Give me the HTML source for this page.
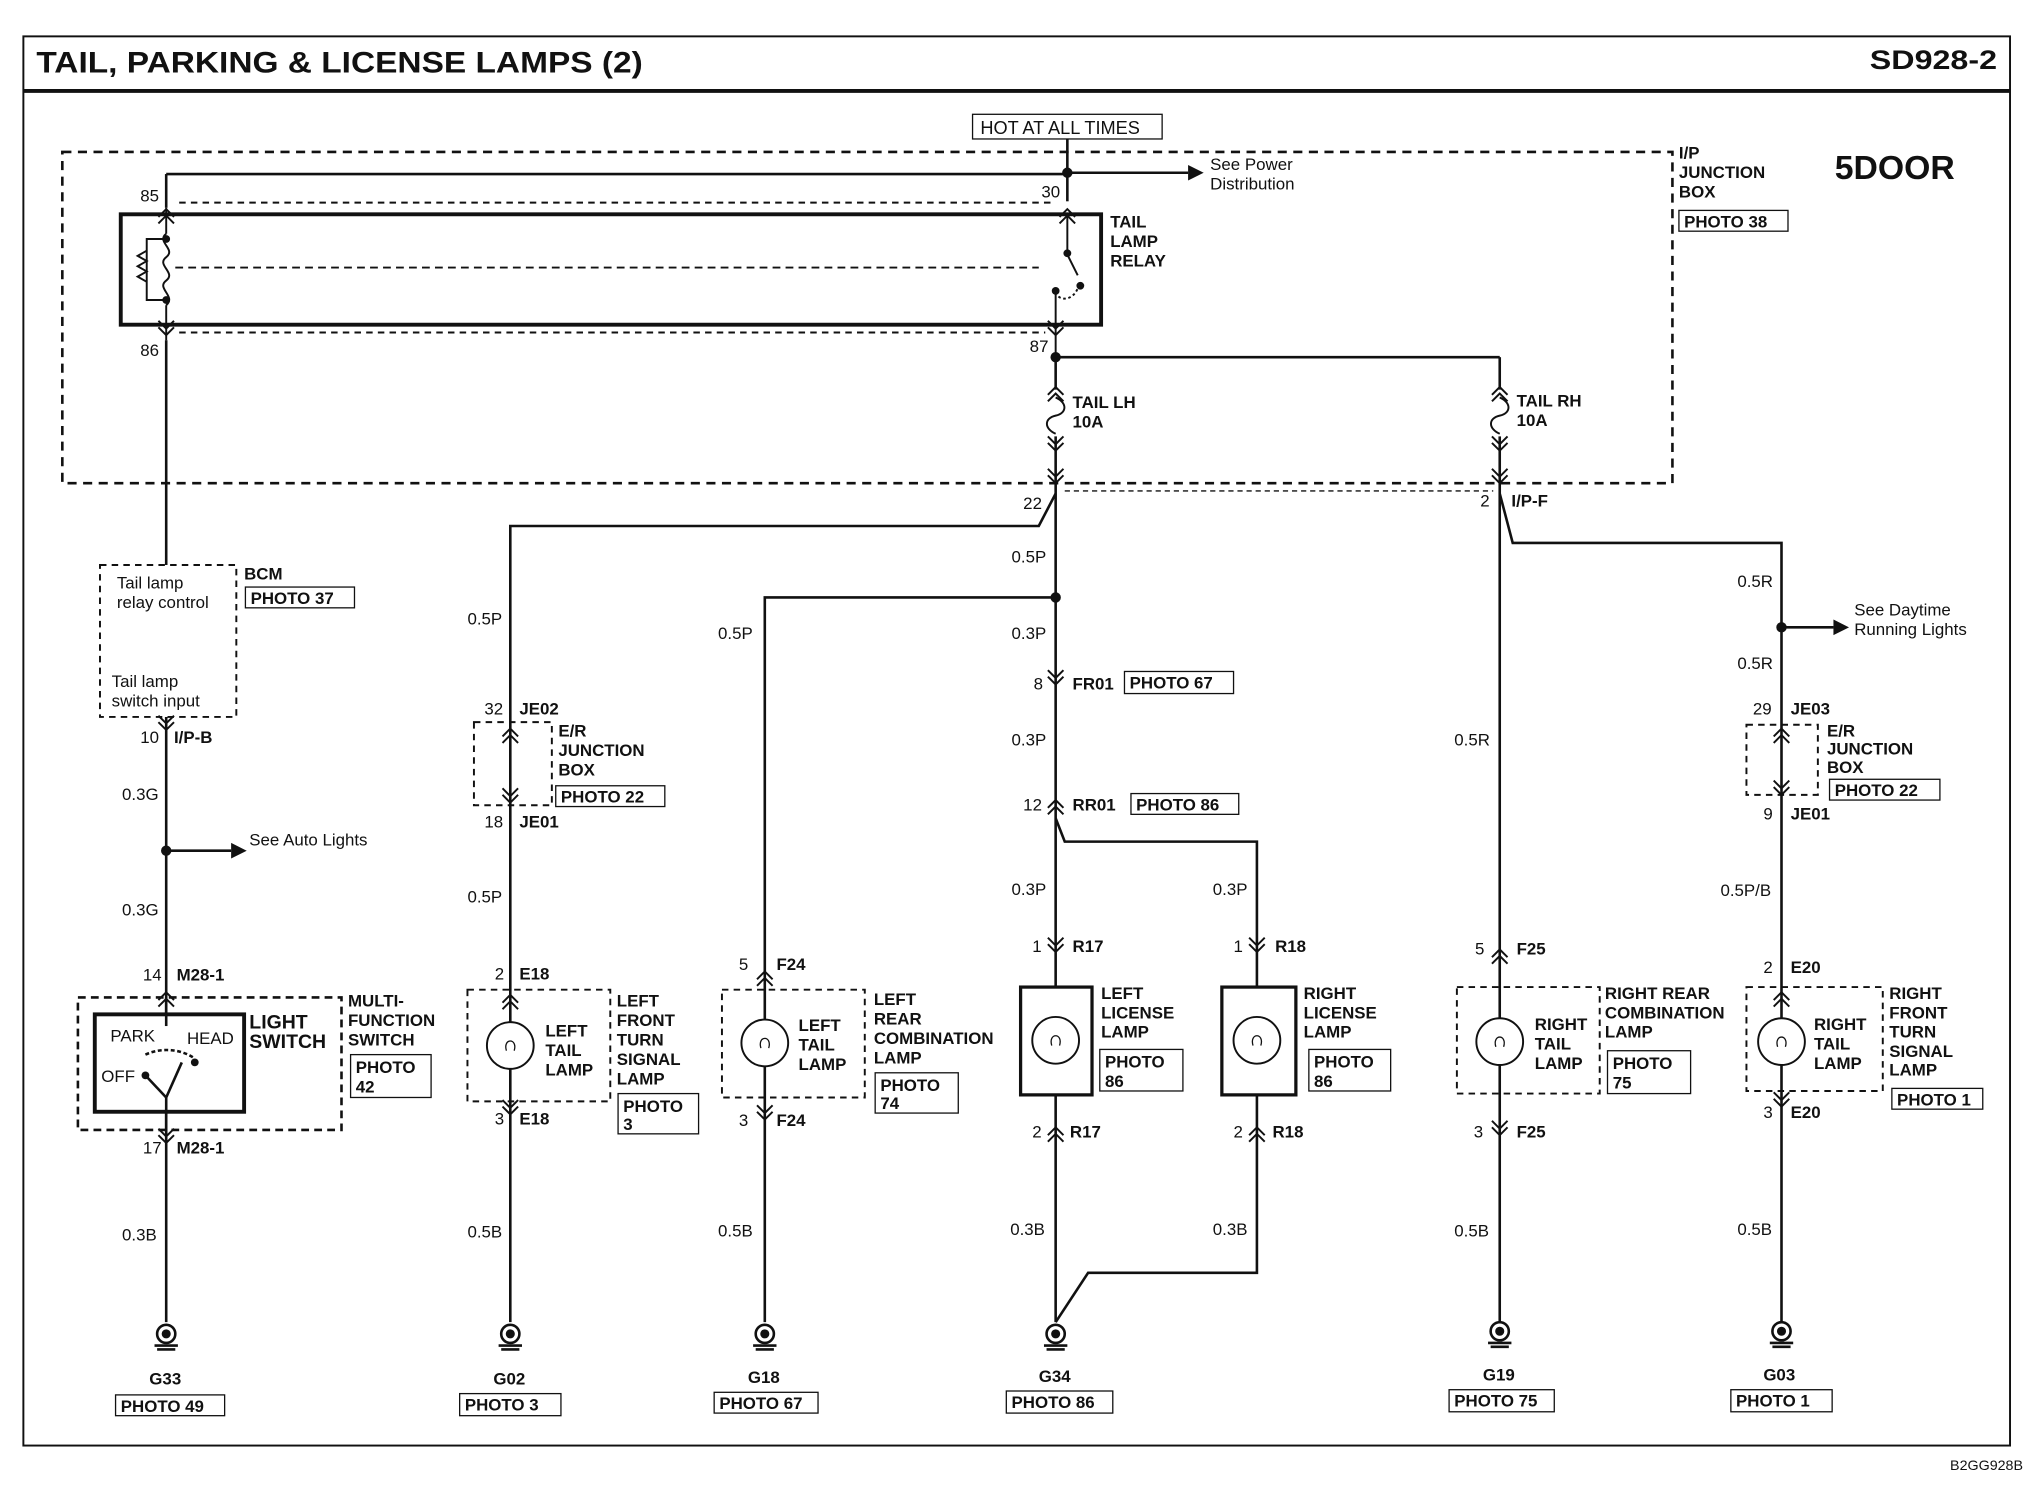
<!DOCTYPE html>
<html><head><meta charset="utf-8"><style>
html,body{margin:0;padding:0;background:#fff}
svg{display:block}
text{font-family:"Liberation Sans",sans-serif;fill:#111}
.b{font-weight:bold}
.s{font-size:13px}
.m{font-size:14px}
</style></head><body>
<svg width="2036" height="1504" viewBox="0 0 1568 1158" preserveAspectRatio="none" xmlns="http://www.w3.org/2000/svg">
<defs>
<g id="cd" fill="none" stroke="#111" stroke-width="1.5"><path d="M-6,-9 L0,-3 L6,-9 M-6,-4 L0,2 L6,-4"/></g>
<g id="cu" fill="none" stroke="#111" stroke-width="1.5"><path d="M-6,9 L0,3 L6,9 M-6,4 L0,-2 L6,4"/></g>
<g id="gnd" fill="none" stroke="#111" stroke-width="2"><circle cx="0" cy="0" r="7"/><circle cx="0" cy="0" r="2.5" fill="#111"/><path d="M-9,9 L9,9 M-7,12 L7,12"/></g>
<g id="fuse" fill="none" stroke="#111" stroke-width="1.5"><path d="M0,-14 C9,-10 9,-2 0,0 C-9,2 -9,10 0,14"/></g>
</defs>
<rect x="0" y="0" width="1568" height="1158" fill="#fff"/>
<!-- frame -->
<rect x="18" y="28" width="1530" height="1085" fill="none" stroke="#111" stroke-width="1.5"/>
<line x1="18" y1="70" x2="1548" y2="70" stroke="#111" stroke-width="3"/>
<text x="28" y="56" class="b" font-size="23" textLength="467" lengthAdjust="spacingAndGlyphs">TAIL, PARKING &amp; LICENSE LAMPS (2)</text>
<text x="1440" y="53" class="b" font-size="21" textLength="98" lengthAdjust="spacingAndGlyphs">SD928-2</text>
<text x="1558" y="1132" font-size="11" text-anchor="end">B2GG928B</text>

<!-- junction box -->
<rect x="48" y="117" width="1240" height="255" fill="none" stroke="#111" stroke-width="2" stroke-dasharray="7,5"/>
<text x="1293" y="122" class="b s">I/P</text>
<text x="1293" y="137" class="b s">JUNCTION</text>
<text x="1293" y="152" class="b s">BOX</text>
<rect x="1293" y="162" width="84" height="16" fill="none" stroke="#111"/>
<text x="1297" y="175" class="b s">PHOTO 38</text>
<text x="1413" y="138" class="b" font-size="26">5DOOR</text>

<rect x="749" y="88" width="146" height="19" fill="none" stroke="#111"/>
<text x="755" y="103" class="m">HOT AT ALL TIMES</text>
<g stroke="#111" stroke-width="2" fill="none">
<line x1="822" y1="107" x2="822" y2="155"/>
<line x1="822" y1="133" x2="915" y2="133"/>
<line x1="128" y1="134" x2="822" y2="134"/>
<line x1="128" y1="134" x2="128" y2="160"/>
</g>
<circle cx="822" cy="133" r="4" fill="#111"/>
<path d="M915,127 L927,133 L915,139 Z" fill="#111"/>
<text x="932" y="131" class="s">See Power</text>
<text x="932" y="146" class="s">Distribution</text>

<!-- relay -->
<rect x="93" y="165" width="755" height="85" fill="none" stroke="#111" stroke-width="3"/>
<g stroke="#111" stroke-width="1.5" fill="none">
<line x1="138" y1="156" x2="812" y2="156" stroke-dasharray="5,4"/>
<line x1="128" y1="160" x2="128" y2="180"/>
<line x1="128" y1="235" x2="128" y2="262"/>
<line x1="138" y1="256" x2="805" y2="256" stroke-dasharray="5,4"/>
<path d="M128,180 C120,186 136,192 128,198 C120,204 136,210 128,216 C120,222 136,228 128,235"/>
<path d="M128,184 L113,184 L113,231 L128,231"/>
<path d="M113,193 L106,197 L113,201 L106,205 L113,209 L106,213 L113,217"/>
<line x1="135" y1="206" x2="800" y2="206" stroke-dasharray="6,4"/>
<line x1="822" y1="165" x2="822" y2="195"/>
<line x1="822" y1="196" x2="830" y2="212"/>
<line x1="813" y1="225" x2="813" y2="275"/>
<path d="M813,225 C815,232 826,232 830,222" stroke-dasharray="2,2"/>
</g>
<circle cx="128" cy="184" r="3" fill="#111"/>
<circle cx="128" cy="231" r="3" fill="#111"/>
<circle cx="822" cy="195" r="3" fill="#111"/>
<circle cx="832" cy="220" r="3" fill="#111"/>
<circle cx="813" cy="224" r="3" fill="#111"/>
<use href="#cu" x="822" y="163"/>
<use href="#cu" x="128" y="163"/>
<use href="#cd" x="128" y="256"/>
<use href="#cd" x="813" y="256"/>
<text x="108" y="155" class="s">85</text>
<text x="802" y="152" class="s">30</text>
<text x="108" y="274" class="s">86</text>
<text x="793" y="271" class="s">87</text>
<text x="855" y="175" class="b s">TAIL</text>
<text x="855" y="190" class="b s">LAMP</text>
<text x="855" y="205" class="b s">RELAY</text>

<!-- wiring -->
<g stroke="#111" stroke-width="2" fill="none">
<line x1="813" y1="275" x2="1155" y2="275"/>
<line x1="1155" y1="275" x2="1155" y2="300"/>
<line x1="813" y1="275" x2="813" y2="300"/>
<line x1="813" y1="336" x2="813" y2="1018"/>
<line x1="1155" y1="336" x2="1155" y2="380"/>
<path d="M1155,380 L1165,418 L1372,418 L1372,1018"/>
<path d="M813,380 L800,405 L393,405 L393,1018"/>
<path d="M813,460 L589,460 L589,1018"/>
<path d="M813,630 L820,648 L968,648 L968,980 L838,980 L813,1018"/>
<line x1="1155" y1="380" x2="1155" y2="1018"/>
<line x1="128" y1="262" x2="128" y2="435"/>
<line x1="128" y1="552" x2="128" y2="1018"/>
<line x1="128" y1="655" x2="178" y2="655"/>
<line x1="1372" y1="483" x2="1412" y2="483"/>
</g>
<line x1="820" y1="378" x2="1150" y2="378" stroke="#111" stroke-width="1" stroke-dasharray="4,3"/>
<circle cx="813" cy="275" r="4" fill="#111"/>
<circle cx="813" cy="460" r="4" fill="#111"/>
<circle cx="128" cy="655" r="4" fill="#111"/>
<circle cx="1372" cy="483" r="4" fill="#111"/>
<path d="M178,649 L190,655 L178,661 Z" fill="#111"/>
<path d="M1412,477 L1424,483 L1412,489 Z" fill="#111"/>

<!-- fuses -->
<use href="#cu" x="813" y="300"/><use href="#fuse" x="813" y="320"/><use href="#cd" x="813" y="345"/><use href="#cd" x="813" y="370"/>
<use href="#cu" x="1155" y="300"/><use href="#fuse" x="1155" y="320"/><use href="#cd" x="1155" y="345"/><use href="#cd" x="1155" y="370"/>
<text x="826" y="314" class="b s">TAIL LH</text><text x="826" y="329" class="b s">10A</text>
<text x="1168" y="313" class="b s">TAIL RH</text><text x="1168" y="328" class="b s">10A</text>
<text x="788" y="392" class="s">22</text>
<text x="1140" y="390" class="s">2</text><text x="1164" y="390" class="b s">I/P-F</text>

<!-- BCM -->
<rect x="77" y="435" width="105" height="117" fill="#fff" stroke="#111" stroke-width="1.5" stroke-dasharray="5,4"/>
<text x="90" y="453" class="s">Tail lamp</text><text x="90" y="468" class="s">relay control</text>
<text x="86" y="529" class="s">Tail lamp</text><text x="86" y="544" class="s">switch input</text>
<text x="188" y="446" class="b s">BCM</text>
<rect x="189" y="452" width="84" height="16" fill="none" stroke="#111"/><text x="193" y="465" class="b s">PHOTO 37</text>
<use href="#cd" x="128" y="560"/>
<text x="108" y="572" class="s">10</text><text x="134" y="572" class="b s">I/P-B</text>
<text x="94" y="616" class="s">0.3G</text>
<text x="192" y="651" class="s">See Auto Lights</text>
<text x="94" y="705" class="s">0.3G</text>
<text x="110" y="755" class="s">14</text><text x="136" y="755" class="b s">M28-1</text>
<use href="#cu" x="128" y="766"/>
<rect x="60" y="768" width="203" height="102" fill="none" stroke="#111" stroke-width="2" stroke-dasharray="6,4"/>
<rect x="73" y="781" width="115" height="75" fill="#fff" stroke="#111" stroke-width="3"/>
<text x="85" y="802" class="s">PARK</text><text x="144" y="804" class="s">HEAD</text><text x="78" y="833" class="s">OFF</text>
<g stroke="#111" stroke-width="2" fill="none"><line x1="128" y1="768" x2="128" y2="790"/><line x1="128" y1="845" x2="128" y2="870"/><line x1="112" y1="828" x2="128" y2="845"/><line x1="128" y1="845" x2="140" y2="818"/><path d="M112,812 C125,806 140,808 150,815" stroke-dasharray="3,2"/></g>
<circle cx="112" cy="828" r="3" fill="#111"/><circle cx="150" cy="818" r="3" fill="#111"/>
<text x="192" y="792" class="b" font-size="15">LIGHT</text><text x="192" y="807" class="b" font-size="15">SWITCH</text>
<text x="268" y="775" class="b s">MULTI-</text><text x="268" y="790" class="b s">FUNCTION</text><text x="268" y="805" class="b s">SWITCH</text>
<rect x="270" y="812" width="62" height="33" fill="none" stroke="#111"/><text x="274" y="826" class="b s">PHOTO</text><text x="274" y="841" class="b s">42</text>
<use href="#cd" x="128" y="878"/>
<text x="110" y="888" class="s">17</text><text x="136" y="888" class="b s">M28-1</text>
<text x="94" y="955" class="s">0.3B</text>
<use href="#gnd" x="128" y="1027"/>
<text x="115" y="1066" class="b s">G33</text>
<rect x="89" y="1074" width="84" height="16" fill="none" stroke="#111"/><text x="93" y="1087" class="b s">PHOTO 49</text>

<!-- col 393 -->
<text x="360" y="481" class="s">0.5P</text>
<text x="373" y="550" class="s">32</text><text x="400" y="550" class="b s">JE02</text>
<rect x="365" y="556" width="60" height="64" fill="none" stroke="#111" stroke-width="1.5" stroke-dasharray="5,4"/>
<use href="#cu" x="393" y="563"/><use href="#cd" x="393" y="616"/>
<text x="430" y="567" class="b s">E/R</text><text x="430" y="582" class="b s">JUNCTION</text><text x="430" y="597" class="b s">BOX</text>
<rect x="428" y="605" width="84" height="16" fill="none" stroke="#111"/><text x="432" y="618" class="b s">PHOTO 22</text>
<text x="373" y="637" class="s">18</text><text x="400" y="637" class="b s">JE01</text>
<text x="360" y="695" class="s">0.5P</text>
<text x="381" y="754" class="s">2</text><text x="400" y="754" class="b s">E18</text>
<rect x="360" y="762" width="110" height="86" fill="none" stroke="#111" stroke-width="1.5" stroke-dasharray="5,4"/>
<use href="#cu" x="393" y="768"/>
<circle cx="393" cy="805" r="18" fill="#fff" stroke="#111" stroke-width="1.5"/><path d="M390,809 C387,799 399,799 396,809" fill="none" stroke="#111"/>
<text x="420" y="798" class="b s">LEFT</text><text x="420" y="813" class="b s">TAIL</text><text x="420" y="828" class="b s">LAMP</text>
<text x="475" y="775" class="b s">LEFT</text><text x="475" y="790" class="b s">FRONT</text><text x="475" y="805" class="b s">TURN</text><text x="475" y="820" class="b s">SIGNAL</text><text x="475" y="835" class="b s">LAMP</text>
<rect x="476" y="842" width="62" height="31" fill="none" stroke="#111"/><text x="480" y="856" class="b s">PHOTO</text><text x="480" y="870" class="b s">3</text>
<use href="#cd" x="393" y="856"/>
<text x="381" y="866" class="s">3</text><text x="400" y="866" class="b s">E18</text>
<text x="360" y="953" class="s">0.5B</text>
<use href="#gnd" x="393" y="1027"/>
<text x="380" y="1066" class="b s">G02</text>
<rect x="354" y="1073" width="78" height="17" fill="none" stroke="#111"/><text x="358" y="1086" class="b s">PHOTO 3</text>

<!-- col 589 -->
<text x="553" y="492" class="s">0.5P</text>
<text x="569" y="747" class="s">5</text><text x="598" y="747" class="b s">F24</text>
<rect x="556" y="762" width="110" height="83" fill="none" stroke="#111" stroke-width="1.5" stroke-dasharray="5,4"/>
<use href="#cu" x="589" y="750"/>
<circle cx="589" cy="803" r="18" fill="#fff" stroke="#111" stroke-width="1.5"/><path d="M586,807 C583,797 595,797 592,807" fill="none" stroke="#111"/>
<text x="615" y="794" class="b s">LEFT</text><text x="615" y="809" class="b s">TAIL</text><text x="615" y="824" class="b s">LAMP</text>
<text x="673" y="774" class="b s">LEFT</text><text x="673" y="789" class="b s">REAR</text><text x="673" y="804" class="b s">COMBINATION</text><text x="673" y="819" class="b s">LAMP</text>
<rect x="674" y="826" width="64" height="31" fill="none" stroke="#111"/><text x="678" y="840" class="b s">PHOTO</text><text x="678" y="854" class="b s">74</text>
<use href="#cd" x="589" y="860"/>
<text x="569" y="867" class="s">3</text><text x="598" y="867" class="b s">F24</text>
<text x="553" y="952" class="s">0.5B</text>
<use href="#gnd" x="589" y="1027"/>
<text x="576" y="1065" class="b s">G18</text>
<rect x="550" y="1072" width="80" height="16" fill="none" stroke="#111"/><text x="554" y="1085" class="b s">PHOTO 67</text>

<!-- col 813 -->
<text x="779" y="433" class="s">0.5P</text>
<text x="779" y="492" class="s">0.3P</text>
<use href="#cd" x="813" y="525"/>
<text x="796" y="531" class="s">8</text><text x="826" y="531" class="b s">FR01</text>
<rect x="866" y="517" width="84" height="17" fill="none" stroke="#111"/><text x="870" y="530" class="b s">PHOTO 67</text>
<text x="779" y="574" class="s">0.3P</text>
<use href="#cu" x="813" y="618"/>
<text x="788" y="624" class="s">12</text><text x="826" y="624" class="b s">RR01</text>
<rect x="871" y="611" width="83" height="16" fill="none" stroke="#111"/><text x="875" y="624" class="b s">PHOTO 86</text>
<text x="779" y="689" class="s">0.3P</text>
<use href="#cd" x="813" y="731"/>
<text x="795" y="733" class="s">1</text><text x="826" y="733" class="b s">R17</text>
<rect x="786" y="760" width="55" height="83" fill="#fff" stroke="#111" stroke-width="2.5"/>
<circle cx="813" cy="801" r="18" fill="#fff" stroke="#111" stroke-width="1.5"/><path d="M810,805 C807,795 819,795 816,805" fill="none" stroke="#111"/>
<text x="848" y="769" class="b s">LEFT</text><text x="848" y="784" class="b s">LICENSE</text><text x="848" y="799" class="b s">LAMP</text>
<rect x="847" y="808" width="64" height="32" fill="none" stroke="#111"/><text x="851" y="822" class="b s">PHOTO</text><text x="851" y="837" class="b s">86</text>
<use href="#cu" x="813" y="870"/>
<text x="795" y="876" class="s">2</text><text x="824" y="876" class="b s">R17</text>
<text x="778" y="951" class="s">0.3B</text>
<use href="#gnd" x="813" y="1027"/>
<text x="800" y="1064" class="b s">G34</text>
<rect x="775" y="1071" width="82" height="17" fill="none" stroke="#111"/><text x="779" y="1084" class="b s">PHOTO 86</text>

<!-- col 968 -->
<text x="934" y="689" class="s">0.3P</text>
<use href="#cd" x="968" y="731"/>
<text x="950" y="733" class="s">1</text><text x="982" y="733" class="b s">R18</text>
<rect x="941" y="760" width="57" height="83" fill="#fff" stroke="#111" stroke-width="2.5"/>
<circle cx="968" cy="801" r="18" fill="#fff" stroke="#111" stroke-width="1.5"/><path d="M965,805 C962,795 974,795 971,805" fill="none" stroke="#111"/>
<text x="1004" y="769" class="b s">RIGHT</text><text x="1004" y="784" class="b s">LICENSE</text><text x="1004" y="799" class="b s">LAMP</text>
<rect x="1008" y="808" width="63" height="32" fill="none" stroke="#111"/><text x="1012" y="822" class="b s">PHOTO</text><text x="1012" y="837" class="b s">86</text>
<use href="#cu" x="968" y="870"/>
<text x="950" y="876" class="s">2</text><text x="980" y="876" class="b s">R18</text>
<text x="934" y="951" class="s">0.3B</text>

<!-- col 1155 -->
<text x="1120" y="574" class="s">0.5R</text>
<use href="#cu" x="1155" y="733"/>
<text x="1136" y="735" class="s">5</text><text x="1168" y="735" class="b s">F25</text>
<rect x="1122" y="760" width="110" height="82" fill="none" stroke="#111" stroke-width="1.5" stroke-dasharray="5,4"/>
<circle cx="1155" cy="802" r="18" fill="#fff" stroke="#111" stroke-width="1.5"/><path d="M1152,806 C1149,796 1161,796 1158,806" fill="none" stroke="#111"/>
<text x="1182" y="793" class="b s">RIGHT</text><text x="1182" y="808" class="b s">TAIL</text><text x="1182" y="823" class="b s">LAMP</text>
<text x="1236" y="769" class="b s">RIGHT REAR</text><text x="1236" y="784" class="b s">COMBINATION</text><text x="1236" y="799" class="b s">LAMP</text>
<rect x="1238" y="809" width="64" height="33" fill="none" stroke="#111"/><text x="1242" y="823" class="b s">PHOTO</text><text x="1242" y="838" class="b s">75</text>
<use href="#cd" x="1155" y="872"/>
<text x="1135" y="876" class="s">3</text><text x="1168" y="876" class="b s">F25</text>
<text x="1120" y="952" class="s">0.5B</text>
<use href="#gnd" x="1155" y="1025"/>
<text x="1142" y="1063" class="b s">G19</text>
<rect x="1116" y="1070" width="81" height="17" fill="none" stroke="#111"/><text x="1120" y="1083" class="b s">PHOTO 75</text>

<!-- col 1372 -->
<text x="1338" y="452" class="s">0.5R</text>
<text x="1428" y="474" class="s">See Daytime</text><text x="1428" y="489" class="s">Running Lights</text>
<text x="1338" y="515" class="s">0.5R</text>
<text x="1350" y="550" class="s">29</text><text x="1379" y="550" class="b s">JE03</text>
<rect x="1345" y="558" width="55" height="54" fill="none" stroke="#111" stroke-width="1.5" stroke-dasharray="5,4"/>
<use href="#cu" x="1372" y="563"/><use href="#cd" x="1372" y="610"/>
<text x="1407" y="567" class="b s">E/R</text><text x="1407" y="581" class="b s">JUNCTION</text><text x="1407" y="595" class="b s">BOX</text>
<rect x="1409" y="600" width="85" height="16" fill="none" stroke="#111"/><text x="1413" y="613" class="b s">PHOTO 22</text>
<text x="1358" y="631" class="s">9</text><text x="1379" y="631" class="b s">JE01</text>
<text x="1325" y="690" class="s">0.5P/B</text>
<text x="1358" y="749" class="s">2</text><text x="1379" y="749" class="b s">E20</text>
<rect x="1345" y="760" width="105" height="80" fill="none" stroke="#111" stroke-width="1.5" stroke-dasharray="5,4"/>
<use href="#cu" x="1372" y="766"/>
<circle cx="1372" cy="802" r="18" fill="#fff" stroke="#111" stroke-width="1.5"/><path d="M1369,806 C1366,796 1378,796 1375,806" fill="none" stroke="#111"/>
<text x="1397" y="793" class="b s">RIGHT</text><text x="1397" y="808" class="b s">TAIL</text><text x="1397" y="823" class="b s">LAMP</text>
<text x="1455" y="769" class="b s">RIGHT</text><text x="1455" y="784" class="b s">FRONT</text><text x="1455" y="799" class="b s">TURN</text><text x="1455" y="814" class="b s">SIGNAL</text><text x="1455" y="828" class="b s">LAMP</text>
<rect x="1457" y="838" width="70" height="16" fill="none" stroke="#111"/><text x="1461" y="851" class="b s">PHOTO 1</text>
<use href="#cd" x="1372" y="850"/>
<text x="1358" y="861" class="s">3</text><text x="1379" y="861" class="b s">E20</text>
<text x="1338" y="951" class="s">0.5B</text>
<use href="#gnd" x="1372" y="1025"/>
<text x="1358" y="1063" class="b s">G03</text>
<rect x="1333" y="1070" width="78" height="17" fill="none" stroke="#111"/><text x="1337" y="1083" class="b s">PHOTO 1</text>
</svg>
</body></html>
